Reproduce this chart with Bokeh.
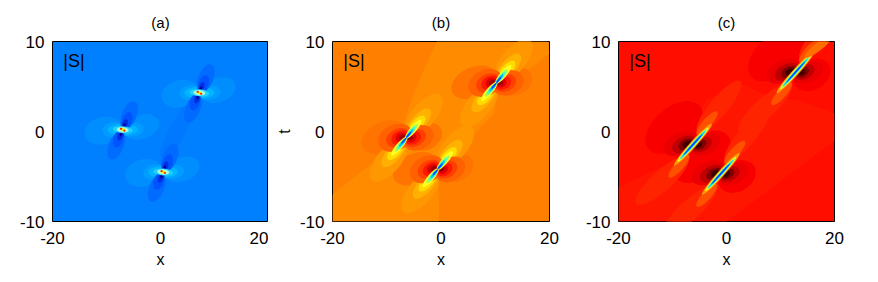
from bokeh.plotting import figure
from bokeh.layouts import row
from bokeh.models import FixedTicker, Range1d
from bokeh.embed import file_html
from bokeh.resources import INLINE

x_ticks = [-20, 0, 20]
t_ticks = [-10, 0, 10]
titles = ["(a)", "(b)", "(c)"]
panel_note = "|S|"

a_blob_x = [-7.0, 7.2, 0.5]
a_blob_t = [0.2, 4.3, -4.5]
b_blob_x = [-6.4, 10.2, -0.6]
b_blob_t = [-0.7, 5.4, -4.2]
c_blob_x = [-6.2, 12.8, -1.05]
c_blob_t = [-1.45, 6.6, -4.7]

a_background = "#0080ff"
b_background = "#ff8000"
c_background = "#ff0e00"

# contour regions: colour, x outline, t outline
a_regions = [
    ("#0078ff", [3.0, 5.2, 5.6, 4.6, 3.6, 1.0, -0.2, 0.6, 2.6, 3.8],
                [-2.0, 0.4, 3.0, 3.6, 2.2, -0.4, -2.4, -3.4, -2.4, -1.4]),
]
b_regions = [
    ("#ff8c00", [-0.74, 19.6, 20, 10.4, 9.75, 3.6, -0.4, -0.4, -20, -20, -8.1, -5.1],
                [10, 10, 8.7, 4.2, 2.0, -1.75, -5.1, -10, -10, -7, -1.4, 4.2]),
]
c_regions = [
    ("#ff1600", [-20, -20, -8.8, -3.8, 3, 6.6, 14.1, 20, 20, 0],
                [-10, -6.2, -3.05, 3.5, 5.3, 4.2, 3.3, 2, -1, -10]),
]

# level shapes round each blob: dx, dt, long axis, short axis, angle, colour
a_levels = [
    (-3.6, -0.1, 38, 27, 15, "#008eff"), (3.5, 0.3, 36, 24, 20, "#008eff"),
    (-1.7, 0, 22, 15, 10, "#009cff"), (1.9, 0, 22, 14, 10, "#009cff"),
    (0, 0, 30, 12, 0, "#00b4ff"),
    (1.2, 1.6, 30, 15, 68, "#006cff"), (-1.2, -1.75, 30, 15, 68, "#006cff"),
    (0.8, 1.0, 18, 10, 70, "#0054ff"), (-0.8, -1.0, 18, 10, 70, "#0054ff"),
    (0.4, 0.6, 11, 5.5, 70, "#0030e0"), (-0.4, -0.6, 11, 5.5, 70, "#0030e0"),
    (0.25, 0.4, 6, 2.5, 70, "#000090"), (-0.25, -0.4, 6, 2.5, 70, "#000090"),
    (0, 0, 20, 7, -5, "#20d0ff"), (0, 0, 12, 5.5, -5, "#a0ffe0"),
    (0, 0, 6, 3, -20, "#ffff00"), (0.3, -0.1, 2.5, 2, -20, "#ff2000"), (-0.3, 0.1, 2.5, 2, -20, "#ff2000"),
]
b_levels = [
    (-4.2, 0.07, 47, 30, 25, "#ff7400"), (3.5, 0.15, 35, 27, 25, "#ff7400"),
    (3.2, 2.5, 52, 24, 50, "#ff9800"), (-3.2, -2.5, 52, 24, 50, "#ff9800"),
    (2.2, 1.65, 36, 15, 50, "#ffb000"), (-2.2, -1.65, 36, 15, 50, "#ffb000"),
    (1.8, 1.3, 26, 11, 50, "#ffdc00"), (-1.8, -1.3, 26, 11, 50, "#ffdc00"),
    (-2.0, 0, 36, 26, 25, "#ff6000"), (2.2, 0, 32, 24, 25, "#ff6000"),
    (-1.5, 0, 25, 18, 25, "#ff4000"), (1.6, 0, 23, 17, 25, "#ff4000"),
    (-1.1, 0, 19, 14, 25, "#ff1800"), (1.2, 0, 17, 13, 25, "#ff1800"),
    (-0.9, 0, 12, 10, 25, "#e00000"), (0.9, 0, 11, 9, 25, "#e00000"),
    (-0.7, 0, 7, 6, 25, "#a00000"), (0.7, 0, 6, 5, 25, "#a00000"),
    (1.3, 0.95, 24, 6.5, 50, "#ffff20"), (-1.3, -0.95, 24, 6.5, 50, "#ffff20"),
    (1.05, 0.8, 17, 4.6, 50, "#a0ff60"), (-1.05, -0.8, 17, 4.6, 50, "#a0ff60"),
    (0.85, 0.65, 14, 3.4, 50, "#40ffc0"), (-0.85, -0.65, 14, 3.4, 50, "#40ffc0"),
    (0.65, 0.5, 11, 2.6, 50, "#00c0ff"), (-0.65, -0.5, 11, 2.6, 50, "#00c0ff"),
    (0.45, 0.33, 8, 1.6, 50, "#0040ff"), (-0.45, -0.33, 8, 1.6, 50, "#0040ff"),
]
c_levels = [
    (-3.5, 1.9, 67, 40, 40, "#f80000"), (3, -0.3, 40, 30, 30, "#f80000"),
    (4.8, 4.2, 67, 18, 50, "#ff2400"), (-5.7, -4, 70, 20, 42, "#ff2400"),
    (-2.3, 0.1, 36, 22, 25, "#ea0000"), (2.3, 0, 32, 20, 25, "#ea0000"),
    (2.6, 2.4, 30, 9, 48, "#ff5000"), (-2.6, -2.4, 30, 9, 48, "#ff5000"),
    (-1.6, 0, 26, 16, 25, "#c00000"), (1.6, 0, 22, 14, 25, "#c00000"),
    (-1.2, 0, 17, 11, 25, "#800000"), (1.2, 0, 15, 10, 25, "#800000"),
    (-1.0, 0, 10, 7, 25, "#400000"), (1.0, 0, 8, 6, 25, "#400000"),
    (0, 0, 56, 6.5, 48, "#ffa000"), (0, 0, 46, 4.6, 48, "#ffff20"),
    (0, 0, 42, 3.6, 48, "#80ff80"), (0, 0, 38, 2.6, 48, "#00d0ff"), (0, 0, 28, 1.4, 48, "#0030ff"),
]
c_tail_x = [17.0]
c_tail_t = [9.4]


def panel(i, xs, ts, levels, regions, bg, left, right, frame, t_label=None):
    p = figure(width=left + frame + right, height=41 + 180 + 54,
               x_range=Range1d(-20, 20), y_range=Range1d(-10, 10),
               toolbar_location=None, output_backend="svg",
               min_border_left=left, min_border_right=right,
               min_border_top=41, min_border_bottom=54,
               background_fill_color=bg, title=titles[i])
    p.title.align = "center"
    p.title.text_font = "Liberation Sans"
    p.title.text_font_size = "15px"
    p.title.text_font_style = "normal"
    p.title.text_color = "#000000"
    p.title.offset = 0
    p.title.standoff = 22
    p.outline_line_color = "#000000"
    p.outline_line_width = 1
    p.outline_line_alpha = 1
    p.grid.visible = False
    for ax, ticks, label, off in ((p.xaxis[0], x_ticks, "x", 10), (p.yaxis[0], t_ticks, t_label, 8)):
        ax.ticker = FixedTicker(ticks=ticks)
        ax.major_label_overrides = {v: str(v) for v in ticks}
        ax.major_tick_line_color = None
        ax.major_tick_out = 0
        ax.major_tick_in = 0
        ax.minor_tick_line_color = None
        ax.minor_tick_out = 0
        ax.minor_tick_in = 0
        ax.axis_line_color = None
        ax.major_label_text_font = "Liberation Sans"
        ax.major_label_text_font_size = "17px"
        ax.major_label_text_color = "#000000"
        ax.major_label_standoff = off
        if label:
            ax.axis_label = label
            ax.axis_label_text_font = "Liberation Sans"
            ax.axis_label_text_font_size = "16px"
            ax.axis_label_text_font_style = "normal"
            ax.axis_label_text_color = "#000000"
            ax.axis_label_standoff = 4
    for colour, rx, rt in regions:
        p.patch(rx, rt, fill_color=colour, line_color=None)
    for dx, dt, major, minor, angle, colour in levels:
        p.ellipse([x + dx for x in xs], [t + dt for t in ts],
                  width=major, height=minor, angle=angle,
                  width_units="screen", height_units="screen", angle_units="deg",
                  fill_color=colour, line_color=None)
    p.text([-18], [7.8], text=[panel_note], text_font_size="18px",
           text_font={"value": "Liberation Sans"}, text_color="#000000",
           text_baseline="middle", text_align="left")
    return p


pa = panel(0, a_blob_x, a_blob_t, a_levels, a_regions, a_background, 52, 0, 216)
pb = panel(1, b_blob_x, b_blob_t, b_levels, b_regions, b_background, 64, 25, 217, t_label="t")
pc = panel(2, c_blob_x, c_blob_t, c_levels, c_regions, c_background, 44, 20, 216)
pc.ellipse(c_tail_x, c_tail_t, width=34, height=8, angle=38,
           width_units="screen", height_units="screen", angle_units="deg",
           fill_color="#ff7000", line_color=None)

layout = row(pa, pb, pc, spacing=0)
open("out.html", "w").write(file_html(layout, INLINE))
